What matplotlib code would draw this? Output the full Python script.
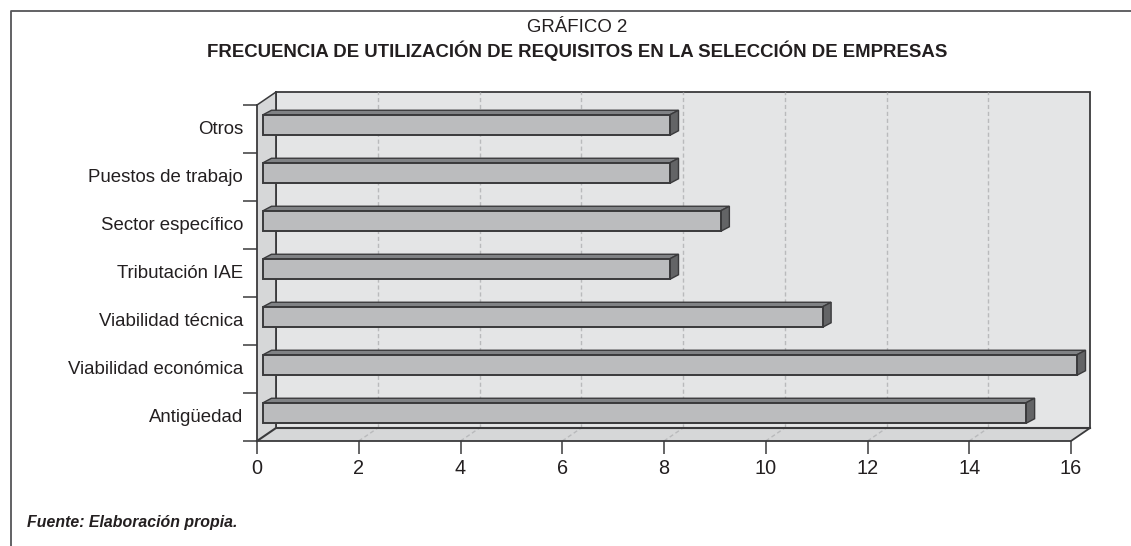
"""Horizontal pseudo-3D bar chart: frequency of requirements in company selection."""

from __future__ import annotations

import matplotlib

matplotlib.use("Agg")
import matplotlib.pyplot as plt
from matplotlib.patches import Polygon

plt.rcParams["font.family"] = ["Liberation Sans", "DejaVu Sans"]

categories = [
    "Antigüedad",
    "Viabilidad económica",
    "Viabilidad técnica",
    "Tributación IAE",
    "Sector específico",
    "Puestos de trabajo",
    "Otros",
]
values = [15, 16, 11, 8, 9, 8, 8]
x_ticks = [0, 2, 4, 6, 8, 10, 12, 14, 16]

W, H = 1131, 546
X0, X1 = 257, 1071  # front plane, pixels
Y_TOP, Y_BOT = 105, 441
PX = (X1 - X0) / 16
PY = (Y_BOT - Y_TOP) / 7

# depth offsets of the box and the bars, in data units
DX, DY = 19 / PX, 13 / PY
BAR_X, BAR_DX, BAR_DY = 6 / PX, 8.5 / PX, 4.5 / PY
BAR_H = 20.5 / PY
BAR_LIFT = 4 / PY  # bars sit above the band centres
LABEL_LIFT = 2 / PY

INK = "#3a3a3c"
WALL = "#e4e5e6"
SIDE = "#d6d7d8"
BAR_FRONT = "#bbbcbe"
BAR_TOP = "#808285"
BAR_SIDE = "#636466"
GRID = "#b9babc"
TEXT = "#231f20"

fig = plt.figure(figsize=(W / 100, H / 100), dpi=100)
ax = fig.add_axes([X0 / W, 1 - Y_BOT / H, (X1 - X0) / W, (Y_BOT - Y_TOP) / H])
ax.set_xlim(0, 16)
ax.set_ylim(-0.5, 6.5)
ax.patch.set_visible(False)
for s in ax.spines.values():
    s.set_visible(False)


def poly(pts, fc, ec=INK, lw=1.2, z=2):
    ax.add_patch(Polygon(pts, closed=True, fc=fc, ec=ec, lw=lw, zorder=z,
                         clip_on=False, joinstyle="miter"))


lo, hi = -0.5, 6.5
poly([(DX, lo + DY), (16 + DX, lo + DY), (16 + DX, hi + DY), (DX, hi + DY)], WALL, lw=1.3, z=1)
poly([(0, lo), (DX, lo + DY), (DX, hi + DY), (0, hi)], SIDE, ec="none", z=1)
poly([(0, lo), (16, lo), (16 + DX, lo + DY), (DX, lo + DY)], SIDE, ec="none", z=1)
ax.plot([0, DX, 16 + DX], [lo, lo + DY, lo + DY], color=INK, lw=1.5, zorder=1.5, clip_on=False)
ax.plot([0, 0], [lo, hi], color=INK, lw=1.3, zorder=1.5, clip_on=False)
ax.plot([0, 16, 16 + DX], [lo, lo, lo + DY], color=INK, lw=1.3, zorder=1.5, clip_on=False)
ax.plot([0, DX], [hi, hi + DY], color=INK, lw=1.1, zorder=1.5, clip_on=False)
ax.plot([DX, DX], [lo + DY, hi + DY], color=INK, lw=1.3, zorder=1.6, clip_on=False)

# dashed grid on the back wall and across the floor
for t in x_ticks[1:-1]:
    ax.plot([t + DX, t + DX], [lo + DY, hi + DY], color=GRID, lw=1.0, ls=(0, (3, 2)), zorder=1.4, clip_on=False)
    ax.plot([t, t + DX], [lo, lo + DY], color=GRID, lw=1.0, ls=(0, (3, 2)), zorder=1.4, clip_on=False)

for i, v in enumerate(values):
    y0 = i - BAR_H / 2 + BAR_LIFT
    y1 = y0 + BAR_H
    x0, x1 = BAR_X, BAR_X + v
    poly([(x0, y1), (x0 + BAR_DX, y1 + BAR_DY), (x1 + BAR_DX, y1 + BAR_DY), (x1, y1)], BAR_TOP, lw=1.0, z=3)
    poly([(x1, y0), (x1 + BAR_DX, y0 + BAR_DY), (x1 + BAR_DX, y1 + BAR_DY), (x1, y1)], BAR_SIDE, lw=1.0, z=3)
    poly([(x0, y0), (x1, y0), (x1, y1), (x0, y1)], BAR_FRONT, lw=1.4, z=4)

ax.set_xticks(x_ticks)
ax.set_yticks([i - 0.5 for i in range(8)], labels=[""] * 8)
ax.set_yticks([i + LABEL_LIFT for i in range(7)], labels=categories, minor=True)
ax.tick_params(axis="x", length=9, width=1.1, color=INK, labelsize=14.3, labelcolor=TEXT, pad=4)
ax.tick_params(axis="y", which="major", length=10, width=1.1, color=INK)
ax.tick_params(axis="y", which="minor", length=0, labelsize=13.4, labelcolor=TEXT, pad=10)

# page frame, title and source
frame = plt.Line2D([10.5 / W, 10.5 / W, 1], [0, 1 - 10.5 / H, 1 - 10.5 / H], transform=fig.transFigure,
                   color="#555558", lw=1.3)
fig.add_artist(frame)
fig.text(577 / W, 1 - 27 / H, "GRÁFICO 2", ha="center", va="center", fontsize=13.4, color=TEXT)
fig.text(577 / W, 1 - 50.5 / H, "FRECUENCIA DE UTILIZACIÓN DE REQUISITOS EN LA SELECCIÓN DE EMPRESAS",
         ha="center", va="center", fontsize=13.4, fontweight="bold", color=TEXT)
fig.text(27 / W, 1 - 522 / H, "Fuente: Elaboración propia.", ha="left", va="center", fontsize=11.4,
         fontweight="bold", style="italic", color=TEXT)

fig.savefig("out.png", dpi=100)
plt.close(fig)
